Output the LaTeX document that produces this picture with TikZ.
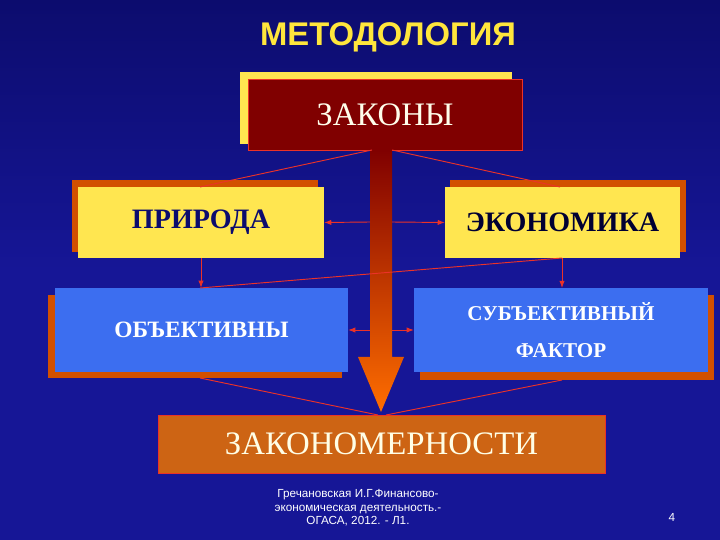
\documentclass[tikz,border=0pt]{standalone}
\usepackage{fontspec}
\setmainfont{Liberation Serif}
\newfontfamily\sans{Liberation Sans}
\usetikzlibrary{arrows.meta}
\definecolor{bg}{RGB}{22,22,150}
\definecolor{bgdark}{RGB}{12,12,110}
\definecolor{ttl}{RGB}{255,230,60}
\definecolor{yel}{RGB}{255,230,80}
\definecolor{org}{RGB}{210,80,0}
\definecolor{blu}{RGB}{60,110,240}
\definecolor{dred}{RGB}{128,0,0}
\definecolor{brn}{RGB}{205,100,20}
\definecolor{lnk}{RGB}{235,50,40}
\begin{document}
\begin{tikzpicture}[x=0.03cm,y=-0.03cm,
  shadowbox/.style={fill=org},
  lnkline/.style={draw=lnk,line width=0.8pt},
  lnkarr/.style={lnkline,-{Latex[length=6pt,width=4.5pt]}},
  boxtext/.style={font=\bfseries,align=center}]
\shade[top color=bgdark,bottom color=bg,middle color=bg] (0,0) rectangle (720,540);
\useasboundingbox (0,0) rectangle (720,540);
\node[font=\sans\bfseries\fontsize{28}{32}\selectfont,text=ttl] (title) at (388,37) {МЕТОДОЛОГИЯ};
% ZAKONY
\fill[yel] (240,72) rectangle (512,144);
\fill[dred,draw=lnk,line width=0.6pt] (248,79) rectangle (522,150);
\node[boxtext,font=\fontsize{28}{30}\selectfont,text=white!92!yellow,minimum width=274*0.03cm,minimum height=71*0.03cm] (zak) at (385,114.5) {ЗАКОНЫ};
% big arrow
\shade[top color=dred,bottom color={rgb,255:red,255;green,110;blue,0}] (370,150) -- (392,150) -- (392,357) -- (404,357) -- (381,412) -- (358,357) -- (370,357) -- cycle;
% PRIRODA
\fill[shadowbox] (72,180) rectangle (318,252);
\node[fill=yel,boxtext,font=\bfseries\fontsize{24}{28}\selectfont,text=bgdark,minimum width=246*0.03cm,minimum height=71*0.03cm] (pri) at (201,222.5) {ПРИРОДА};
\fill[shadowbox] (450,180) rectangle (686,252);
\node[fill=yel,boxtext,font=\bfseries\fontsize{24}{28}\selectfont,text=black!80!blue,minimum width=235*0.03cm,minimum height=71*0.03cm] (eko) at (562.5,222.5) {ЭКОНОМИКА};
% blue boxes
\fill[shadowbox] (48,295) rectangle (342,378);
\node[fill=blu,boxtext,font=\bfseries\fontsize{20}{24}\selectfont,text=white,minimum width=293*0.03cm,minimum height=84*0.03cm] (obj) at (201.5,330) {ОБЪЕКТИВНЫ};
\fill[shadowbox] (420,295) rectangle (714,380);
\node[fill=blu,boxtext,font=\bfseries\fontsize{18}{32}\selectfont,text=white,minimum width=294*0.03cm,minimum height=84*0.03cm] (sub) at (561,330) {СУБЪЕКТИВНЫЙ\\ФАКТОР};
% ZAKONOMERNOSTI
\node[fill=brn,draw=lnk,line width=0.6pt,boxtext,font=\fontsize{28}{30}\selectfont,text=white!90!yellow,minimum width=447*0.03cm,minimum height=58*0.03cm] (zkm) at (381.5,444) {ЗАКОНОМЕРНОСТИ};
% links
\coordinate (z1) at (372,150); \coordinate (z2) at (392,150);
\draw[lnkline] (z1) -- (200,187);
\draw[lnkline] (z2) -- (560,187);
\draw[lnkarr] (pri.south) -- (pri.south |- obj.north);
\draw[lnkarr] (562,258) -- (562,288);
\draw[lnkline] (562,258) -- (200,288);
\draw[lnkarr] (370,222) -- (pri.east);
\draw[lnkarr] (392,222) -- (eko.west);
\draw[lnkarr] (370,330) -- (obj.east);
\draw[lnkarr] (392,330) -- (sub.west);
\draw[lnkline] (200,378) -- (378,415);
\draw[lnkline] (562,380) -- (386,415);
% footer
\node[font=\sans\fontsize{10}{11.5}\selectfont,text=white,align=center] (foot) at (358,508) {Гречановская И.Г.Финансово-\\экономическая деятельность.-\\ОГАСА, 2012. - Л1.};
\node[font=\sans\fontsize{10}{11.5}\selectfont,text=white] (num) at (672,517) {4};
\end{tikzpicture}
\end{document}
